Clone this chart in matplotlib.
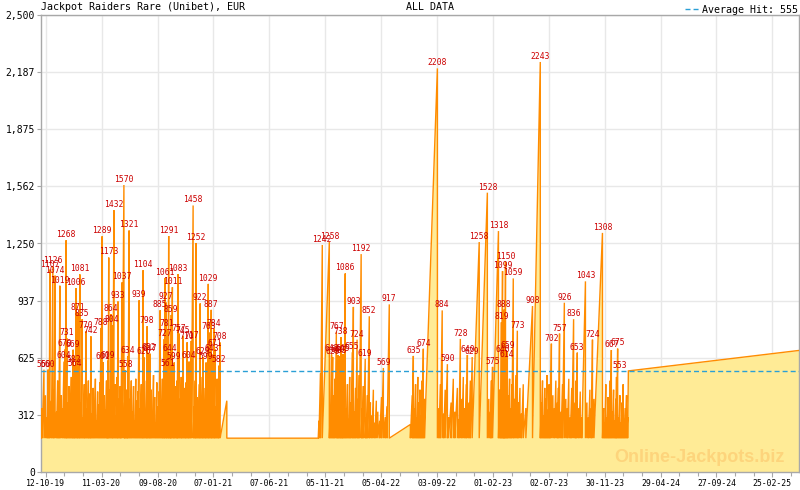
import matplotlib
matplotlib.use('Agg')
import matplotlib.pyplot as plt
import matplotlib.dates as mdates
from matplotlib.ticker import FixedLocator, FuncFormatter
import datetime as dt

# ---------------- data ----------------
start_date = dt.date(2019, 9, 29)
end_day = 2048
seed_value = 185
average_hit = 555

seg1_days = [3, 8, 12, 16, 19, 22, 24, 28, 32, 35, 38, 42, 45, 48, 51, 54, 58, 62, 65, 68, 70, 73, 76, 79, 82, 85, 87, 90, 92, 95,
             98, 100, 103, 105, 108, 111, 114, 117, 119, 122, 125, 128, 130, 133, 135, 138, 141, 144, 147, 150, 153, 156, 159, 162,
             165, 168, 171, 174, 177, 179, 181, 183, 186, 189, 192, 194, 197, 200, 203, 206, 208, 211, 214, 216, 219, 224, 226, 228,
             231, 233, 235, 238, 241, 244, 247, 250, 253, 256, 259, 262, 265, 268, 271, 274, 276, 279, 282, 285, 287, 290, 293, 295,
             298, 301, 304, 307, 310, 313, 316, 319, 322, 325, 328, 330, 333, 335, 338, 340, 343, 345, 348, 350, 352, 355, 358, 360,
             363, 366, 368, 370, 373, 376, 379, 381, 384, 387, 390, 392, 395, 398, 400, 403, 406, 411, 414, 417, 419, 422, 425, 428,
             430, 433, 436, 438, 441, 444, 446, 449, 452, 454, 457, 460, 462, 465, 468, 470, 473, 476, 479, 481, 484, 502]
seg1_vals = [350, 560, 420, 300, 560, 480, 1107, 390, 1126, 450, 1074, 330, 500, 260, 1019, 420, 350, 604, 670, 1268, 731, 380, 470, 300, 520, 410, 669, 582, 564, 1006,
             350, 871, 450, 1081, 380, 835, 300, 480, 410, 770, 350, 500, 270, 430, 742, 320, 460, 390, 510, 280, 440, 370, 490, 788,
             1289, 601, 420, 340, 500, 390, 609, 1173, 450, 864, 804, 360, 1432, 480, 310, 520, 933, 400, 470, 350, 1037, 1570, 380, 558,
             450, 300, 634, 1321, 400, 500, 330, 470, 280, 510, 390, 440, 939, 350, 480, 410, 1104, 626, 340, 500, 798, 652, 380, 647,
             450, 320, 530, 410, 270, 490, 360, 440, 885, 390, 510, 300, 727, 1061, 927, 781, 561, 1291, 644, 420, 859, 1011, 380, 599,
             470, 330, 500, 1083, 757, 400, 520, 350, 745, 460, 310, 490, 710, 420, 604, 380, 717, 1458, 360, 500, 1252, 410, 330, 480,
             922, 370, 520, 629, 300, 460, 599, 410, 1029, 763, 380, 887, 643, 450, 784, 671, 360, 510, 420, 582, 708, 390]

flat_gap_start = 502
flat_gap_end = 749

seg2_days = [751, 755, 760, 779, 782, 785, 788, 791, 794, 798, 801, 803, 806, 809, 811, 814, 816, 819, 822, 825, 828, 831, 834, 837,
             841, 844, 847, 850, 854, 857, 860, 865, 868, 871, 876, 879, 882, 887, 890, 894, 898, 902, 906, 910, 915, 920, 925, 930,
             935, 941]
seg2_vals = [280, 540, 1242, 1258, 350, 643, 629, 420, 510, 767, 380, 640, 633, 450, 738, 300, 645, 400, 1086, 350, 480, 290, 520, 380,
             655, 903, 330, 460, 724, 400, 530, 1192, 350, 470, 619, 300, 420, 852, 380, 310, 450, 270, 390, 330, 280, 410, 569, 300,
             360, 917]

seg3_days = [998, 1003, 1006, 1009, 1012, 1015, 1018, 1021, 1024, 1027, 1030, 1033, 1036, 1071, 1075, 1079, 1084, 1088, 1092, 1098,
             1101, 1108, 1114, 1118, 1125, 1129, 1133, 1137, 1141, 1145, 1149, 1152, 1156, 1160, 1165, 1184, 1206, 1210, 1214, 1217,
             1220, 1236, 1239, 1242, 1244, 1247, 1249, 1251, 1253, 1255, 1258, 1260, 1263, 1266, 1269, 1272, 1276, 1279, 1283, 1287,
             1290, 1294, 1298, 1303, 1310, 1328, 1349, 1352, 1355, 1358, 1361, 1364, 1367, 1370, 1373, 1376, 1379, 1383, 1387, 1391,
             1395, 1398, 1401, 1405, 1409, 1414, 1418, 1422, 1426, 1430, 1434, 1439, 1443, 1446, 1449, 1453, 1457, 1461, 1471, 1475,
             1479, 1483, 1487, 1490, 1494, 1517, 1520, 1523, 1526, 1529, 1532, 1535, 1538, 1541, 1544, 1547, 1550, 1553, 1555, 1558,
             1561, 1564, 1567, 1570, 1573, 1576, 1579, 1582, 1585]
seg3_vals = [260, 420, 635, 350, 480, 300, 520, 380, 450, 310, 500, 674, 400, 2208, 350, 480, 884, 320, 450, 590,
             300, 380, 510, 330, 460, 290, 728, 400, 520, 350, 480, 640, 380, 500, 629, 1258, 1528, 400, 330, 500,
             575, 1318, 450, 380, 819, 1099, 640, 888, 500, 1150, 614, 659, 420, 510, 350, 480, 1059, 400, 530, 773,
             380, 460, 320, 480, 350, 908, 2243, 380, 500, 310, 460, 400, 530, 340, 480, 290, 702, 420, 350, 500,
             380, 460, 757, 330, 480, 926, 400, 350, 510, 300, 460, 836, 380, 500, 653, 350, 440, 300, 1043, 380,
             300, 450, 350, 724, 400, 1308, 350, 270, 480, 300, 410, 260, 500, 667, 330, 450, 280, 400, 520, 675,
             300, 420, 270, 380, 480, 290, 350, 420, 300]

tail_days = [1587, 2048]
tail_vals = [553, 665]
label_threshold = 550

x_tick_labels = ['12-10-19', '11-03-20', '09-08-20', '07-01-21', '07-06-21', '05-11-21', '05-04-22',
                 '03-09-22', '01-02-23', '02-07-23', '30-11-23', '29-04-24', '27-09-24', '25-02-25']
first_tick_date = dt.date(2019, 10, 12)
tick_step_days = 151
y_tick_values = [0, 312.5, 625, 937.5, 1250, 1562.5, 1875, 2187.5, 2500]
y_tick_labels = ['0', '312', '625', '937', '1,250', '1,562', '1,875', '2,187', '2,500']

title_text = 'Jackpot Raiders Rare (Unibet), EUR'
center_text = 'ALL DATA'
watermark = 'Online-Jackpots.biz'

# ---------------- build sawtooth series ----------------
hit_days = seg1_days + seg2_days + seg3_days
hit_vals = seg1_vals + seg2_vals + seg3_vals

def to_date(d):
    return mdates.date2num(start_date) + d

xs = [to_date(0)]
ys = [seed_value]
prev = 0
for d, v in zip(hit_days, hit_vals):
    if prev <= flat_gap_start and d > flat_gap_end:
        xs.append(to_date(flat_gap_end)); ys.append(seed_value)
    xs.append(to_date(d)); ys.append(v)
    xs.append(to_date(d)); ys.append(seed_value)
    prev = d
for d, v in zip(tail_days, tail_vals):
    xs.append(to_date(d)); ys.append(v)

# ---------------- figure ----------------
mono = 'DejaVu Sans Mono'
fig = plt.figure(figsize=(8.0, 4.9), dpi=100)
ax = fig.add_axes([41/800, 18/490, 758/800, 457/490])

ax.fill_between(xs, ys, 0, color='#ffeb96', lw=0, zorder=2)
ax.plot(xs, ys, color='#ff8c00', lw=1.0, zorder=3, solid_joinstyle='miter')

avg_line = ax.axhline(average_hit, color='#2a9fd6', lw=1.0, dashes=(3.6, 2.2), zorder=4,
                      label=f'Average Hit: {average_hit}')

for d, v in zip(hit_days, hit_vals):
    if v >= label_threshold:
        ax.annotate(str(v), (to_date(d), v), xytext=(0, 0.8), textcoords='offset points',
                    ha='center', va='bottom', fontsize=5.8, family=mono, color='#cc0000', zorder=5)
ax.annotate(str(tail_vals[0]), (to_date(tail_days[0]) - 22, tail_vals[0]), xytext=(0, 0.8),
            textcoords='offset points', ha='center', va='bottom', fontsize=5.8, family=mono,
            color='#cc0000', zorder=5)

ax.set_xlim(to_date(0), to_date(end_day))
ax.set_ylim(0, 2500)

major = [mdates.date2num(first_tick_date) + i * tick_step_days for i in range(len(x_tick_labels))]
minor = [mdates.date2num(first_tick_date) + (i - 1) * tick_step_days / 3 for i in range(3 * len(x_tick_labels) + 2)]
minor = [m for m in minor if to_date(0) <= m <= to_date(end_day)]
ax.xaxis.set_major_locator(FixedLocator(major))
ax.xaxis.set_minor_locator(FixedLocator(minor))
ax.set_xticklabels(x_tick_labels, fontsize=5.9, family=mono)
ax.set_yticks(y_tick_values)
ax.set_yticklabels(y_tick_labels, fontsize=7, family=mono)

ax.grid(True, which='major', color='#e8e8e8', lw=1.0)
ax.set_axisbelow(True)
for s in ax.spines.values():
    s.set_color('#a8a8a8')
    s.set_linewidth(1.0)
ax.tick_params(axis='both', which='both', color='#a8a8a8', length=3, width=0.8, pad=1.5)
ax.tick_params(axis='x', which='major', length=3.5)

ax.text(0.0, 1.006, title_text, transform=ax.transAxes, fontsize=7.2, family=mono,
        ha='left', va='bottom')
ax.text(0.513, 1.006, center_text, transform=ax.transAxes, fontsize=7.2, family=mono,
        ha='center', va='bottom')
ax.legend(handles=[avg_line], loc='lower right', bbox_to_anchor=(1.0, 0.998), frameon=False,
          prop={'family': mono, 'size': 7.2}, handlelength=1.4, handletextpad=0.3,
          borderpad=0, borderaxespad=0.1)

ax.text(0.868, 0.031, watermark, transform=ax.transAxes, fontsize=13, family='Liberation Sans',
        weight='bold', color='#fdd47c', ha='center', va='center', zorder=6)

fig.savefig('out.png', dpi=100)
